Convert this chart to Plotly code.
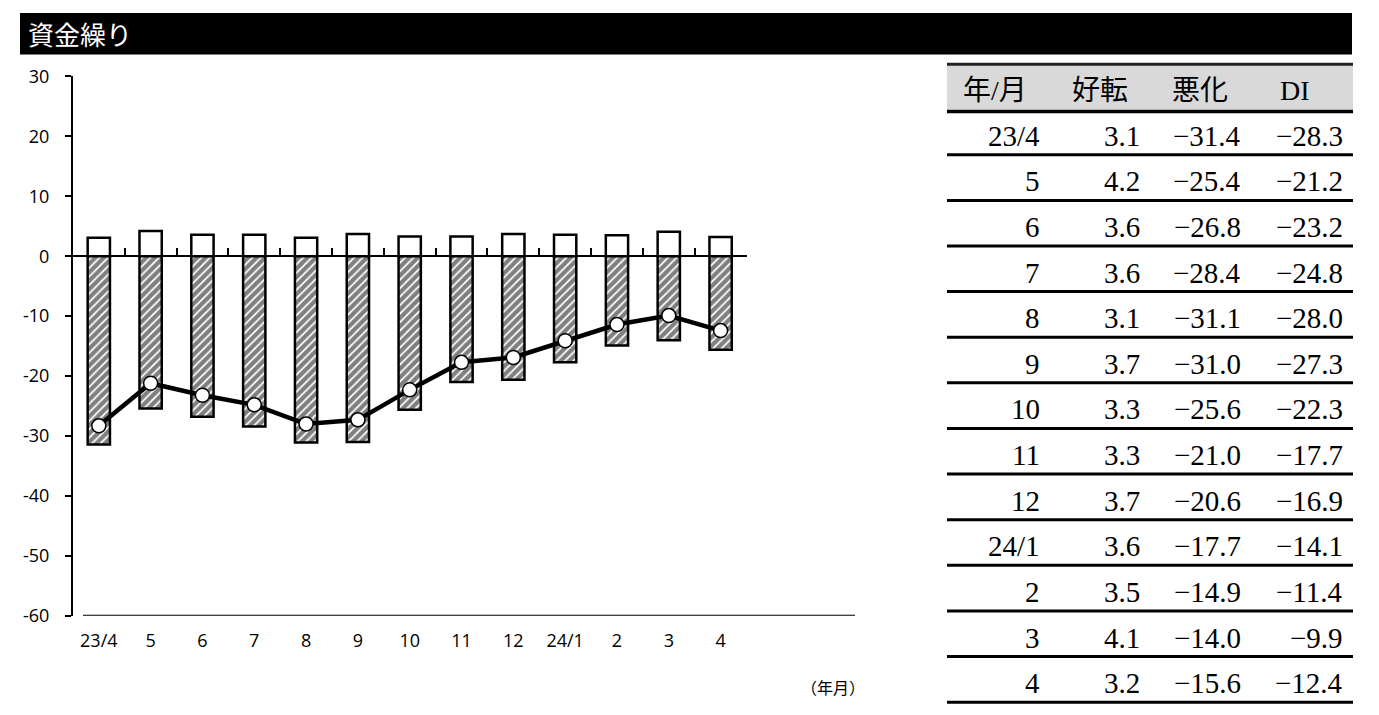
import plotly.graph_objects as go

# ---- data ----
categories = ["23/4", "5", "6", "7", "8", "9", "10", "11", "12", "24/1", "2", "3", "4"]
kouten = [3.1, 4.2, 3.6, 3.6, 3.1, 3.7, 3.3, 3.3, 3.7, 3.6, 3.5, 4.1, 3.2]
akka = [-31.4, -25.4, -26.8, -28.4, -31.1, -31.0, -25.6, -21.0, -20.6, -17.7, -14.9, -14.0, -15.6]
di = [-28.3, -21.2, -23.2, -24.8, -28.0, -27.3, -22.3, -17.7, -16.9, -14.1, -11.4, -9.9, -12.4]
table_headers = ["年/月", "好転", "悪化", "DI"]
title_text = "資金繰り"
x_unit = "（年月）"
y_ticks = [30, 20, 10, 0, -10, -20, -30, -40, -50, -60]

W, H = 1379, 715


def px(x):
    return x / W


def py(y):
    return 1 - y / H


x_dom = [px(72.9), px(746.5)]
y_dom = [py(623.7), py(65.7)]
y_range = [-60, 30]
zero_pos = y_dom[0] + (0 - y_range[0]) / (y_range[1] - y_range[0]) * (y_dom[1] - y_dom[0])

fig = go.Figure()

fig.add_trace(go.Bar(
    x=categories, y=kouten, name="好転", width=0.43,
    marker=dict(color="white", line=dict(color="black", width=2.5)),
    xaxis="x", yaxis="y",
))
fig.add_trace(go.Bar(
    x=categories, y=akka, name="悪化", width=0.43,
    marker=dict(color="white", line=dict(color="black", width=2.5),
                pattern=dict(shape="/", fgcolor="black", bgcolor="white", size=6, solidity=0.7)),
    xaxis="x", yaxis="y",
))
fig.add_trace(go.Scatter(
    x=categories, y=di, name="DI", mode="lines+markers",
    line=dict(color="black", width=4.5),
    marker=dict(size=14, color="white", line=dict(color="black", width=1.5)),
    xaxis="x2", yaxis="y",
))

tick_font = dict(family="Open Sans, Noto Sans", size=18, color="black")

fig.update_layout(
    width=W, height=H,
    margin=dict(l=0, r=0, t=0, b=0),
    paper_bgcolor="white", plot_bgcolor="white",
    barmode="relative",
    showlegend=False,
    xaxis=dict(
        type="category", categoryorder="array", categoryarray=categories,
        range=[-0.5, len(categories) - 0.5], domain=x_dom,
        anchor="free", position=zero_pos,
        showline=True, linecolor="black", linewidth=2,
        ticks="inside", tickson="boundaries", ticklen=7, tickwidth=2, tickcolor="black",
        showticklabels=False, showgrid=False, zeroline=False, fixedrange=True,
    ),
    xaxis2=dict(
        type="category", categoryorder="array", categoryarray=categories,
        range=[-0.5, len(categories) - 0.5], domain=x_dom,
        overlaying="x", anchor="y", side="bottom",
        showline=False, ticks="", showgrid=False, zeroline=False,
        tickfont=tick_font, ticklabelstandoff=12, fixedrange=True,
    ),
    yaxis=dict(
        range=y_range, domain=y_dom, anchor="x",
        tickmode="array", tickvals=y_ticks, ticktext=[str(v) for v in y_ticks],
        showline=True, linecolor="black", linewidth=2,
        ticks="outside", ticklen=6, tickwidth=2, tickcolor="black",
        showgrid=False, zeroline=False, tickfont=tick_font, ticklabelstandoff=12,
        fixedrange=True,
    ),
)

shapes = []
annotations = []

# title bar
shapes.append(dict(type="rect", xref="paper", yref="paper", x0=px(20), x1=px(1352), y0=py(43), y1=py(0),
                   fillcolor="black", line=dict(width=0), layer="below"))
annotations.append(dict(text=title_text, xref="paper", yref="paper", x=px(26), y=py(21), xanchor="left",
                        yanchor="middle", showarrow=False,
                        font=dict(family="Noto Sans CJK JP", size=26, color="white")))

# bottom line of chart
shapes.append(dict(type="line", xref="paper", yref="y", x0=px(83), x1=px(855), y0=y_range[0], y1=y_range[0],
                   line=dict(color="black", width=2)))

annotations.append(dict(text=x_unit, xref="paper", yref="paper", x=px(833), y=py(697), xanchor="center",
                        yanchor="middle", showarrow=False,
                        font=dict(family="Noto Sans CJK JP", size=16, color="black")))

# table
tx0, tx1 = 947, 1353
shapes.append(dict(type="rect", xref="paper", yref="paper", x0=px(tx0), x1=px(tx1), y0=py(100), y1=py(53),
                   fillcolor="#d9d9d9", line=dict(width=0)))
shapes.append(dict(type="line", xref="paper", yref="paper", x0=px(tx0), x1=px(tx1), y0=py(53), y1=py(53),
                   line=dict(color="#222222", width=3)))
shapes.append(dict(type="line", xref="paper", yref="paper", x0=px(tx0), x1=px(tx1), y0=py(102), y1=py(102),
                   line=dict(color="black", width=3.5)))

header_cx = [995, 1100, 1200, 1295]
col_right = [1042, 1142, 1243, 1345]
table_font = dict(family="Liberation Serif, Noto Sans CJK JP", size=29, color="black")
header_font = dict(family="Liberation Serif, Noto Sans CJK JP", size=28, color="black")
for h, cx in zip(table_headers, header_cx):
    annotations.append(dict(text=h, xref="paper", yref="paper", x=px(cx), y=py(80), xanchor="center",
                            yanchor="middle", showarrow=False, font=header_font))

row_pitch = 47.2
for i, cat in enumerate(categories):
    yc = 127 + row_pitch * i
    yl = 146.7 + row_pitch * i
    vals = [cat, f"{kouten[i]:.1f}", f"{akka[i]:.1f}", f"{di[i]:.1f}"]
    for v, xr in zip(vals, col_right):
        annotations.append(dict(text=v.replace("-", "−"), xref="paper", yref="paper", x=px(xr), y=py(yc),
                                xanchor="right", yanchor="middle", showarrow=False, font=table_font))
    shapes.append(dict(type="line", xref="paper", yref="paper", x0=px(tx0), x1=px(tx1), y0=py(yl), y1=py(yl),
                       line=dict(color="black", width=3)))

fig.update_layout(shapes=shapes, annotations=annotations)

fig.write_html("out.html", config={"displayModeBar": False},
               post_script="document.body.style.margin='0';document.body.style.overflow='hidden';")
